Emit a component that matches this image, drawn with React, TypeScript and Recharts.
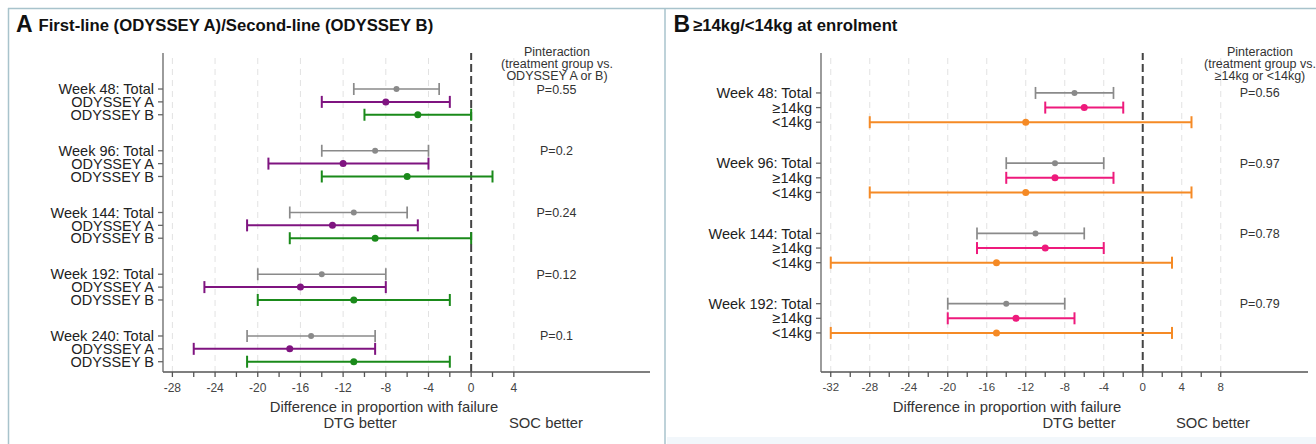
import React from 'react';
import { ScatterChart, Scatter, XAxis, YAxis, ErrorBar, ReferenceLine } from 'recharts';

// ---------- Panel A data ----------
const weeksA = ['Week 48', 'Week 96', 'Week 144', 'Week 192', 'Week 240'];
const subgroupsA = ['Total', 'ODYSSEY A', 'ODYSSEY B'];
const totalEstA = [-7, -9, -11, -14, -15];
const totalLoA = [-11, -14, -17, -20, -21];
const totalHiA = [-3, -4, -6, -8, -9];
const odyAEst = [-8, -12, -13, -16, -17];
const odyALo = [-14, -19, -21, -25, -26];
const odyAHi = [-2, -4, -5, -8, -9];
const odyBEst = [-5, -6, -9, -11, -11];
const odyBLo = [-10, -14, -17, -20, -21];
const odyBHi = [0, 2, 0, -2, -2];
const pValuesA = ['P=0.55', 'P=0.2', 'P=0.24', 'P=0.12', 'P=0.1'];
const xTicksA = [-28, -26, -24, -22, -20, -18, -16, -14, -12, -10, -8, -6, -4, -2, 0, 2, 4];
const gridA = [-28, -24, -20, -16, -12, -8, -4, 4];

// ---------- Panel B data ----------
const weeksB = ['Week 48', 'Week 96', 'Week 144', 'Week 192'];
const subgroupsB = ['Total', '≥14kg', '<14kg'];
const totalEstB = [-7, -9, -11, -14];
const totalLoB = [-11, -14, -17, -20];
const totalHiB = [-3, -4, -6, -8];
const geEst = [-6, -9, -10, -13];
const geLo = [-10, -14, -17, -20];
const geHi = [-2, -3, -4, -7];
const ltEst = [-12, -12, -15, -15];
const ltLo = [-28, -28, -32, -32];
const ltHi = [5, 5, 3, 3];
const pValuesB = ['P=0.56', 'P=0.97', 'P=0.78', 'P=0.79'];
const xTicksB = [-32, -30, -28, -26, -24, -22, -20, -18, -16, -14, -12, -10, -8, -6, -4, -2, 0, 2, 4, 6, 8];
const gridB = [-32, -28, -24, -20, -16, -12, -8, -4, 4, 8];

const FONT = '"Liberation Sans", Arial, Helvetica, sans-serif';
const GROUP_STEP = 4.8;

type Series = { est: number[]; lo: number[]; hi: number[]; color: string; width: number; r: number };

function rowsOf(s: Series, k: number) {
  return s.est.map((e, g) => ({
    x: e,
    y: g * GROUP_STEP + k,
    err: [e - s.lo[g], s.hi[g] - e],
  }));
}

type PanelProps = {
  weeks: string[];
  subgroups: string[];
  series: Series[];
  pValues: string[];
  pX: number;
  xTicks: number[];
  grid: number[];
  xDomain: [number, number];
  yDomain: [number, number];
  width: number;
  marginRight: number;
  yAxisWidth: number;
  tickFont: number;
};

function Panel(p: PanelProps) {
  const yTicks: number[] = [];
  const labelMap: Record<string, string> = {};
  p.weeks.forEach((w, g) => {
    p.subgroups.forEach((s, k) => {
      const v = g * GROUP_STEP + k;
      yTicks.push(v);
      labelMap[v.toFixed(2)] = k === 0 ? `${w}: ${s}` : s;
    });
  });
  const pData = p.pValues.map((t, g) => ({ x: p.pX, y: g * GROUP_STEP, t }));
  return (
    <ScatterChart
      width={p.width}
      height={444}
      margin={{ top: 53, right: p.marginRight, bottom: 0, left: 0 }}
    >
      <XAxis
        type="number"
        dataKey="x"
        domain={p.xDomain}
        allowDataOverflow
        ticks={p.xTicks}
        interval={0}
        height={72}
        tickSize={5}
        tickMargin={6}
        stroke="#555"
        strokeWidth={1.3}
        tick={{ fill: '#444', fontSize: p.tickFont, fontFamily: FONT }}
        tickFormatter={(v: number) => (v % 4 === 0 ? String(v) : '')}
      />
      <YAxis
        type="number"
        dataKey="y"
        reversed
        domain={p.yDomain}
        allowDataOverflow
        ticks={yTicks}
        interval={0}
        width={p.yAxisWidth}
        tickSize={5}
        tickMargin={4}
        stroke="#666"
        strokeWidth={1.3}
        tick={{ fill: '#222', fontSize: 14.5, fontFamily: FONT }}
        tickFormatter={(v: number) => labelMap[v.toFixed(2)] ?? ''}
      />
      {p.grid.map((g) => (
        <ReferenceLine key={g} x={g} stroke="#e2e2e2" strokeWidth={1} strokeDasharray="6 5" />
      ))}
      <ReferenceLine x={0} stroke="#444" strokeWidth={2} strokeDasharray="8 4" />
      {p.series.map((s, k) => (
        <Scatter
          key={k}
          data={rowsOf(s, k)}
          isAnimationActive={false}
          fill={s.color}
          shape={(props: any) => <circle cx={props.cx} cy={props.cy} r={s.r} fill={s.color} />}
        >
          <ErrorBar dataKey="err" direction="x" width={6} stroke={s.color} strokeWidth={s.width} />
        </Scatter>
      ))}
      <Scatter
        data={pData}
        isAnimationActive={false}
        shape={(props: any) => (
          <text
            x={props.cx}
            y={props.cy + 4.5}
            textAnchor="middle"
            fontSize={12.5}
            fontFamily={FONT}
            fill="#333"
          >
            {props.payload.t}
          </text>
        )}
      />
    </ScatterChart>
  );
}

export default function App() {
  const seriesA: Series[] = [
    { est: totalEstA, lo: totalLoA, hi: totalHiA, color: '#8a8a8a', width: 1.7, r: 3 },
    { est: odyAEst, lo: odyALo, hi: odyAHi, color: '#7f1480', width: 2, r: 3.5 },
    { est: odyBEst, lo: odyBLo, hi: odyBHi, color: '#1a8a1a', width: 2, r: 3.5 },
  ];
  const seriesB: Series[] = [
    { est: totalEstB, lo: totalLoB, hi: totalHiB, color: '#8a8a8a', width: 1.7, r: 3 },
    { est: geEst, lo: geLo, hi: geHi, color: '#ee1a7c', width: 2, r: 3.5 },
    { est: ltEst, lo: ltLo, hi: ltHi, color: '#f58a25', width: 2, r: 3.5 },
  ];
  const txt = { fontFamily: FONT, fill: '#333' } as const;
  return (
    <div style={{ position: 'absolute', left: 0, top: 0, width: 1316, height: 444, background: '#fff', overflow: 'hidden' }}>
      <div style={{ position: 'absolute', left: 0, top: 0 }}>
        <Panel
          weeks={weeksA}
          subgroups={subgroupsA}
          series={seriesA}
          pValues={pValuesA}
          pX={8}
          xTicks={xTicksA}
          grid={gridA}
          xDomain={[-28.88, 16.76]}
          yDomain={[-2.8, 22.0]}
          width={660}
          marginRight={10}
          yAxisWidth={163}
          tickFont={12}
        />
      </div>
      <div style={{ position: 'absolute', left: 660, top: 0 }}>
        <Panel
          weeks={weeksB}
          subgroups={subgroupsB}
          series={seriesB}
          pValues={pValuesB}
          pX={12}
          xTicks={xTicksB}
          grid={gridB}
          xDomain={[-33.0, 16.95]}
          yDomain={[-2.73, 19.07]}
          width={656}
          marginRight={8}
          yAxisWidth={161}
          tickFont={11.5}
        />
      </div>
      <svg width={1316} height={444} style={{ position: 'absolute', left: 0, top: 0, pointerEvents: 'none' }}>
        <rect x={667} y={437} width={649} height={7} fill="#f2f7fb" />
        <line x1={8} y1={8.5} x2={1316} y2={8.5} stroke="#a8c3cc" strokeWidth={1.5} />
        <line x1={8.5} y1={8} x2={8.5} y2={444} stroke="#a8c3cc" strokeWidth={1.5} />
        <line x1={665} y1={8} x2={665} y2={444} stroke="#a8c3cc" strokeWidth={1.5} />

        <text x={16} y={31.7} fontSize={23} fontWeight="bold" fontFamily={FONT} fill="#111">A</text>
        <text x={38.5} y={31} fontSize={16.7} fontWeight="bold" fontFamily={FONT} fill="#111">
          First-line (ODYSSEY A)/Second-line (ODYSSEY B)
        </text>
        <text x={673.5} y={31.7} fontSize={23} fontWeight="bold" fontFamily={FONT} fill="#111">B</text>
        <text x={693} y={31} fontSize={16.7} fontWeight="bold" fontFamily={FONT} fill="#111">
          ≥14kg/&lt;14kg at enrolment
        </text>

        <g textAnchor="middle" fontSize={12.5} {...txt}>
          <text x={557} y={55.5}>Pinteraction</text>
          <text x={557} y={67.5}>(treatment group vs.</text>
          <text x={557} y={79.5}>ODYSSEY A or B)</text>
          <text x={1260} y={55.5}>Pinteraction</text>
          <text x={1260} y={67.5}>(treatment group vs.</text>
          <text x={1260} y={79.5}>≥14kg or &lt;14kg)</text>
        </g>

        <g textAnchor="middle" fontSize={14.8} {...txt}>
          <text x={384} y={411.8}>Difference in proportion with failure</text>
          <text x={360} y={427.5}>DTG better</text>
          <text x={546} y={427.5}>SOC better</text>
          <text x={1007} y={411.8}>Difference in proportion with failure</text>
          <text x={1079} y={427.5}>DTG better</text>
          <text x={1213} y={427.5}>SOC better</text>
        </g>
      </svg>
    </div>
  );
}
